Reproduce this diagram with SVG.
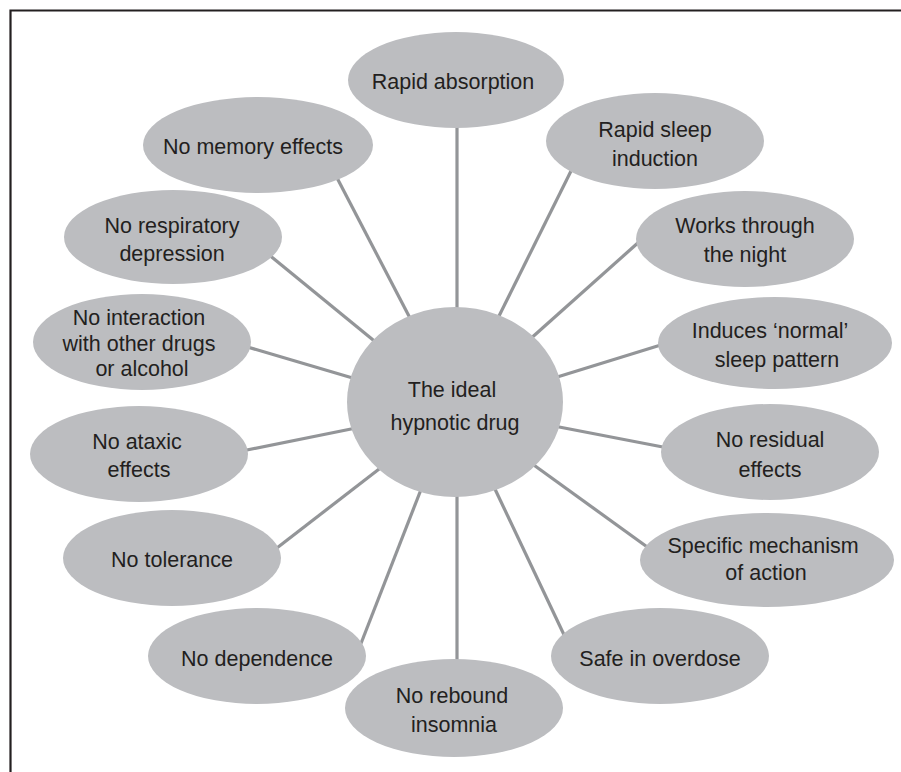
<svg xmlns="http://www.w3.org/2000/svg" width="901" height="772" viewBox="0 0 901 772">
<style>
.bg{fill:#ffffff}
.frame{fill:none;stroke:#231f20;stroke-width:2.2}
.node{fill:#bcbdc0}
.conn line{stroke:#939598;stroke-width:3.2;stroke-linecap:butt}
text{font-family:"Liberation Sans",Arial,sans-serif;font-size:21.5px;fill:#231f20;text-anchor:middle}
</style>
<rect class="bg" x="0" y="0" width="901" height="772"/>
<path class="frame" d="M10.5,772 V10.5 H901"/>
<g id="connectors" class="conn">
<line x1="457" y1="122" x2="457" y2="315"/>
<line x1="335" y1="174" x2="411" y2="320"/>
<line x1="573" y1="167" x2="497" y2="320"/>
<line x1="268" y1="254" x2="378" y2="344"/>
<line x1="640" y1="241" x2="528" y2="341"/>
<line x1="244" y1="346" x2="356" y2="379"/>
<line x1="664" y1="344" x2="554" y2="378"/>
<line x1="242" y1="451" x2="356" y2="428"/>
<line x1="668" y1="448" x2="554" y2="426"/>
<line x1="273" y1="551" x2="383" y2="466"/>
<line x1="650" y1="549" x2="531" y2="463"/>
<line x1="360" y1="646" x2="422" y2="487"/>
<line x1="566" y1="639" x2="494" y2="487"/>
<line x1="457" y1="490" x2="457" y2="665"/>
</g>
<g id="center">
<ellipse class="node" cx="455" cy="402" rx="108" ry="95"/>
<text x="452" y="397">The ideal</text>
<text x="455" y="430">hypnotic drug</text>
</g>
<g id="rapid-absorption">
<ellipse class="node" cx="456" cy="80" rx="108" ry="48"/>
<text x="453" y="89">Rapid absorption</text>
</g>
<g id="no-memory-effects">
<ellipse class="node" cx="258" cy="145" rx="115" ry="48"/>
<text x="253" y="154">No memory effects</text>
</g>
<g id="rapid-sleep-induction">
<ellipse class="node" cx="655" cy="141" rx="109" ry="48"/>
<text x="655" y="137">Rapid sleep</text>
<text x="655" y="166">induction</text>
</g>
<g id="no-respiratory-depression">
<ellipse class="node" cx="173" cy="237" rx="109" ry="47"/>
<text x="172" y="233">No respiratory</text>
<text x="172" y="261">depression</text>
</g>
<g id="works-through-the-night">
<ellipse class="node" cx="745" cy="239" rx="109" ry="48"/>
<text x="745" y="233">Works through</text>
<text x="745" y="262">the night</text>
</g>
<g id="no-interaction">
<ellipse class="node" cx="142" cy="342" rx="109" ry="48"/>
<text x="139" y="325">No interaction</text>
<text x="139" y="351">with other drugs</text>
<text x="142" y="376">or alcohol</text>
</g>
<g id="induces-normal-sleep">
<ellipse class="node" cx="775" cy="343" rx="117" ry="46"/>
<text x="770" y="338">Induces ‘normal’</text>
<text x="777" y="367">sleep pattern</text>
</g>
<g id="no-ataxic-effects">
<ellipse class="node" cx="139" cy="454" rx="109" ry="48"/>
<text x="137" y="449">No ataxic</text>
<text x="139" y="477">effects</text>
</g>
<g id="no-residual-effects">
<ellipse class="node" cx="770" cy="452" rx="109" ry="48"/>
<text x="770" y="447">No residual</text>
<text x="770" y="477">effects</text>
</g>
<g id="no-tolerance">
<ellipse class="node" cx="172" cy="558" rx="109" ry="48"/>
<text x="172" y="567">No tolerance</text>
</g>
<g id="specific-mechanism">
<ellipse class="node" cx="767" cy="560" rx="127" ry="47"/>
<text x="763" y="553">Specific mechanism</text>
<text x="766" y="580">of action</text>
</g>
<g id="no-dependence">
<ellipse class="node" cx="257" cy="656" rx="109" ry="48"/>
<text x="257" y="666">No dependence</text>
</g>
<g id="safe-in-overdose">
<ellipse class="node" cx="660" cy="656" rx="109" ry="48"/>
<text x="660" y="666">Safe in overdose</text>
</g>
<g id="no-rebound-insomnia">
<ellipse class="node" cx="454" cy="708" rx="109" ry="49"/>
<text x="452" y="703">No rebound</text>
<text x="454" y="732">insomnia</text>
</g>
</svg>
